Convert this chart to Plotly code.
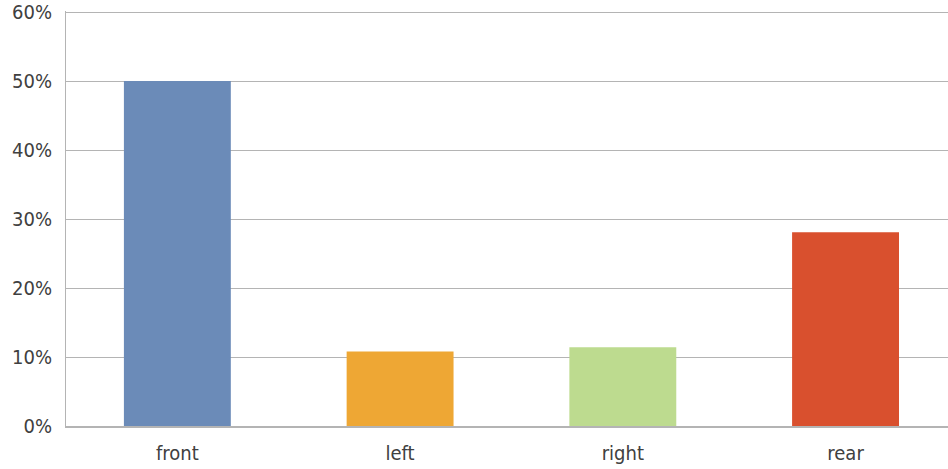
import plotly.graph_objects as go

categories = ["front", "left", "right", "rear"]
values = [50.0, 10.8, 11.4, 28.1]
colors = ["#6b8bb8", "#eea734", "#bddb8f", "#d9502e"]
y_ticks = [0, 10, 20, 30, 40, 50, 60]
y_tick_labels = ["0%", "10%", "20%", "30%", "40%", "50%", "60%"]

FONT = "DejaVu Sans Condensed, Liberation Sans Narrow, sans-serif"

fig = go.Figure(go.Bar(
    x=list(range(len(categories))),
    y=values,
    marker=dict(color=colors, line=dict(width=0)),
    width=0.48,
    hoverinfo="skip",
))

fig.update_layout(
    width=948, height=469,
    margin=dict(l=66, r=0, t=9, b=43),
    paper_bgcolor="white", plot_bgcolor="white",
    showlegend=False,
    font=dict(family=FONT, size=20, color="#404040"),
    xaxis=dict(
        tickmode="array",
        tickvals=list(range(len(categories))),
        ticktext=categories,
        range=[-0.5, 3.46],
        showgrid=False,
        showline=True, linecolor="#b4b4b4", linewidth=2,
        ticks="", ticklabelstandoff=8,
        zeroline=False,
    ),
    yaxis=dict(
        range=[0, 60.15],
        tickmode="array",
        tickvals=y_ticks,
        ticktext=y_tick_labels,
        showgrid=True, gridcolor="#b4b4b4", gridwidth=1,
        showline=True, linecolor="#b4b4b4", linewidth=1,
        ticks="", ticklabelstandoff=9,
        ticklabeloverflow="allow",
        zeroline=False,
    ),
)

fig.write_html("out.html")
